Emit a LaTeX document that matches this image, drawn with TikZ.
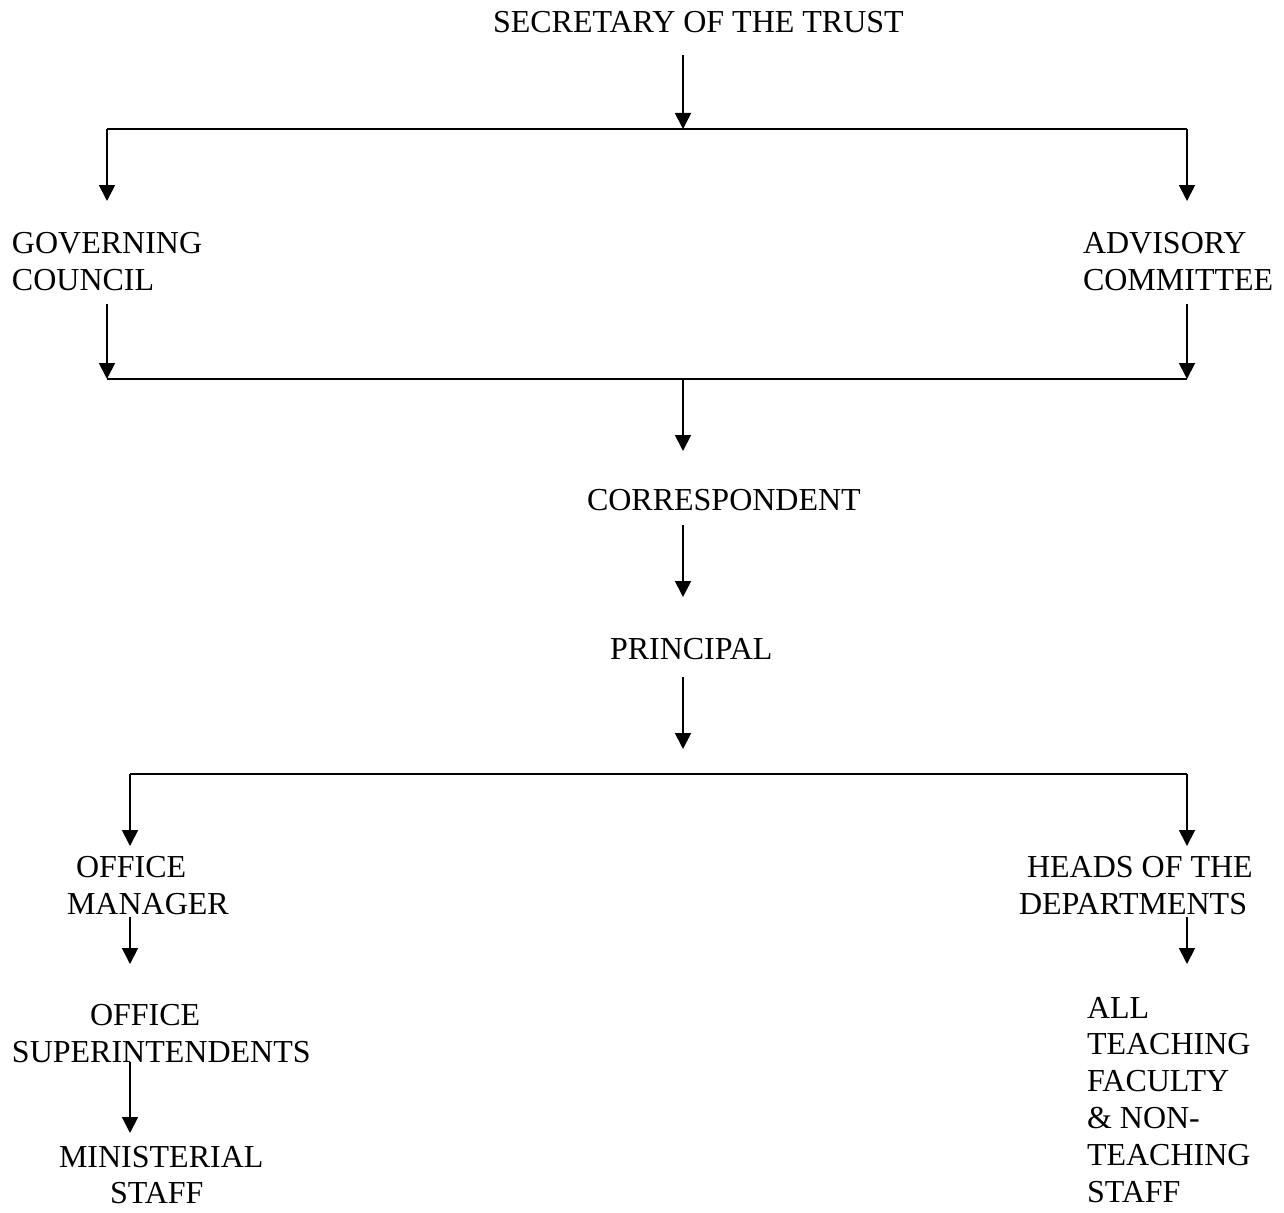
\documentclass[tikz,border=0pt]{standalone}
\usepackage{fontspec}
\setmainfont{Liberation Serif}
\usetikzlibrary{arrows.meta}
\tikzset{
  lbl/.style={inner sep=0pt, outer sep=0pt, align=left, font=\fontsize{32}{37}\selectfont},
  lblb/.style={inner sep=0pt, outer sep=0pt, align=left, font=\fontsize{32}{36.8}\selectfont},
  lblc/.style={inner sep=0pt, outer sep=0pt, align=left, font=\fontsize{32}{36}\selectfont},
  arr/.style={line width=1.8pt, -{Triangle[width=16pt,length=16pt]}},
  ln/.style={line width=1.8pt}
}
\begin{document}
\begin{tikzpicture}[x=1pt,y=-1pt]
\useasboundingbox (0,0) rectangle (1284,1212);
% labels
\node[lbl, anchor=base west] (sec) at (493,33) {SECRETARY OF THE TRUST};
\node[lbl, anchor=north west] (gov) at (12,232) {GOVERNING\\COUNCIL};
\node[lbl, anchor=north west] (adv) at (1083,232) {ADVISORY\\COMMITTEE};
\node[lbl, anchor=base west] (cor) at (587,510) {CORRESPONDENT};
\node[lbl, anchor=base west] (pri) at (610,659) {PRINCIPAL};
\node[lbl, anchor=north west] (man) at (67,856) {\hspace*{9pt}OFFICE\\MANAGER};
\node[lbl, anchor=north west] (sup) at (12,1004) {\hspace*{78pt}OFFICE\\SUPERINTENDENTS};
\node[lblc, anchor=north west] (min) at (59,1146) {MINISTERIAL\\\hspace*{51pt}STAFF};
\node[lbl, anchor=north west] (hod) at (1019,856) {\hspace*{8pt}HEADS OF THE\\DEPARTMENTS};
\node[lblb, anchor=north west] (all) at (1087,997) {ALL\\TEACHING\\FACULTY\\\& NON-\\TEACHING\\STAFF};
% junction coordinates
\coordinate (s0) at (683,55);
\coordinate (s1) at (683,129);
\coordinate (jl1) at (107,129);
\coordinate (jr1) at (1187,129);
\coordinate (gt) at (107,201);
\coordinate (at) at (1187,201);
\coordinate (gb) at (107,304);
\coordinate (ab) at (1187,304);
\coordinate (jl2) at (107,379);
\coordinate (jr2) at (1187,379);
\coordinate (jm2) at (683,379);
\coordinate (ct) at (683,451);
\coordinate (cb) at (683,525);
\coordinate (pt) at (683,597);
\coordinate (pb) at (683,677);
\coordinate (pe) at (683,749);
\coordinate (jl3) at (130,774);
\coordinate (jr3) at (1187,774);
\coordinate (mt) at (130,846);
\coordinate (ht) at (1187,846);
\coordinate (mb) at (130,917);
\coordinate (st) at (130,964);
\coordinate (hb) at (1187,917);
\coordinate (alt) at (1187,964);
\coordinate (sb) at (130,1062);
\coordinate (mnt) at (130,1133);
% connectors
\draw[arr] (s0) -- (s1);
\draw[ln] (jl1) -- (jr1);
\draw[arr] (jl1) -- (gt);
\draw[arr] (jr1) -- (at);
\draw[arr] (gb) -- (jl2);
\draw[arr] (ab) -- (jr2);
\draw[ln] (jl2) -- (jr2);
\draw[arr] (jm2) -- (ct);
\draw[arr] (cb) -- (pt);
\draw[arr] (pb) -- (pe);
\draw[ln] (jl3) -- (jr3);
\draw[arr] (jl3) -- (mt);
\draw[arr] (jr3) -- (ht);
\draw[arr] (mb) -- (st);
\draw[arr] (hb) -- (alt);
\draw[arr] (sb) -- (mnt);
\end{tikzpicture}
\end{document}
